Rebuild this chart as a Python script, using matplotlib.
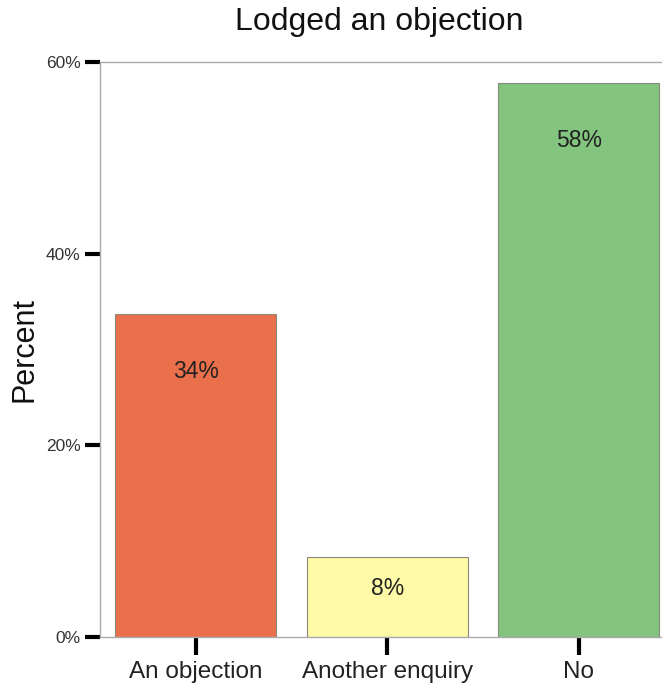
import numpy as np
import matplotlib
matplotlib.use("Agg")
import matplotlib.pyplot as plt
from matplotlib.ticker import FuncFormatter

plt.rcParams['font.family'] = ['Liberation Sans', 'DejaVu Sans']

# Data
categories = ['An objection', 'Another enquiry', 'No']
percents = [33.7, 8.4, 57.8]
labels = ['34%', '8%', '58%']
bar_colors = ['#EA6F4B', '#FFFAA8', '#83C47F']

fig = plt.figure(figsize=(6.62, 6.83), dpi=100)
ax = fig.add_axes([100 / 662, 46 / 683, 562 / 662, 575 / 683])

x = np.arange(len(categories))
ax.bar(x, percents, width=0.84, color=bar_colors, edgecolor='#8a8a7a', linewidth=0.8)

for xi, v, lab in zip(x, percents, labels):
    ty = v - 6 if v > 12 else v * 0.6
    ax.text(xi, ty, lab, ha='center', va='center', fontsize=16.5, color='#222222')

ax.set_xlim(-0.5, 2.435)
ax.set_ylim(0, 60)
ax.set_xticks(x)
ax.set_xticklabels(categories, fontsize=17.5, color='#222222')
ax.set_yticks([0, 20, 40, 60])
ax.yaxis.set_major_formatter(FuncFormatter(lambda v, p: '%d%%' % v))
ax.tick_params(axis='y', labelsize=12.5, colors='#333333', length=11, width=3, direction='out', pad=3)
ax.tick_params(axis='x', length=13, width=3, direction='out', pad=4)
ax.tick_params(axis='both', color='black')

for side in ['left', 'bottom', 'top']:
    ax.spines[side].set_color('#aaaaaa')
    ax.spines[side].set_linewidth(1.0)
ax.spines['right'].set_visible(False)

ax.set_ylabel('Percent', fontsize=22, color='#111111', va='center')
ax.yaxis.set_label_coords(-0.135, 0.5)
fig.text(0.573, 0.968, 'Lodged an objection', ha='center', va='center', fontsize=23, color='#111111')

fig.savefig('out.png', dpi=100, facecolor='white')
